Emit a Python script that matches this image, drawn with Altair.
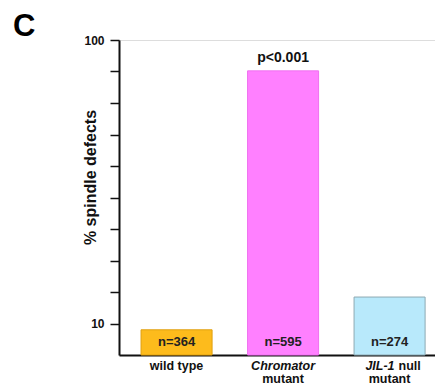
import altair as alt
import pandas as pd

categories = ["wild type", "Chromator mutant", "JIL-1 null mutant"]
values = [8.0, 90.2, 18.4]
n_labels = ["n=364", "n=595", "n=274"]
fills = ["#FDBB1C", "#FF80FF", "#B8E9FB"]
strokes = ["#E0A010", "#F070F0", "#8EA9B3"]
line1_italic = ["", "Chromator", "JIL-1"]
line1_plain = ["wild type", "", "null"]
line2 = ["", "mutant", "mutant"]
sig_label = ["", "p<0.001", ""]
y_ticks = [10, 20, 30, 40, 50, 60, 70, 80, 90, 100]

FONT = "Liberation Sans"

df = pd.DataFrame({
    "cat": categories,
    "val": values,
    "n": n_labels,
    "fill": fills,
    "stroke": strokes,
    "l1i": line1_italic,
    "l1p": line1_plain,
    "l2": line2,
    "sig": sig_label,
})

x = alt.X("cat:N", sort=categories,
          scale=alt.Scale(paddingInner=0.333, paddingOuter=0.15, align=0.69),
          axis=alt.Axis(title=None, labels=False, ticks=False,
                        domainColor="#111", domainWidth=2))
y = alt.Y("val:Q", scale=alt.Scale(domain=[0, 100], nice=False),
          axis=alt.Axis(values=y_ticks, title="% spindle defects",
                        labelExpr="datum.value == 10 || datum.value == 100 ? datum.label : ''",
                        labelOverlap=False,
                        labelFont=FONT, labelFontWeight="bold", labelFontSize=12,
                        labelColor="#111", labelPadding=6,
                        tickSize=9, tickWidth=1.5, tickColor="#111",
                        domainColor="#111", domainWidth=2, grid=False,
                        titleFont=FONT, titleFontWeight="bold", titleFontSize=16,
                        titleColor="#111", titleAngle=-90, titleX=-24, titleY=137,
                        titleAlign="center", titleBaseline="alphabetic"))

base = alt.Chart(df)

bars = base.mark_bar(strokeWidth=1).encode(
    x=x, y=y,
    fill=alt.Fill("fill:N", scale=None),
    stroke=alt.Stroke("stroke:N", scale=None),
)

nlab = base.mark_text(font=FONT, fontWeight="bold", fontSize=13, color="#222",
                      baseline="middle").encode(
    x=x, y=alt.value(302), text="n:N")

sig = base.mark_text(font=FONT, fontWeight="bold", fontSize=14, color="#111",
                     baseline="alphabetic", dy=-9).encode(
    x=x, y=y, text="sig:N")

txt = dict(font=FONT, fontWeight="bold", fontSize=12.5, color="#111",
           baseline="alphabetic")
L1, L2 = 330, 343

lab_plain_center = base.transform_filter(alt.datum.l1i == "").mark_text(
    **txt).encode(x=x, y=alt.value(L1), text="l1p:N")

lab_italic_center = base.transform_filter(
    (alt.datum.l1p == "") & (alt.datum.l1i != "")).mark_text(
    fontStyle="italic", **txt).encode(x=x, y=alt.value(L1), text="l1i:N")

lab_italic_right = base.transform_filter(
    (alt.datum.l1p != "") & (alt.datum.l1i != "")).mark_text(
    fontStyle="italic", align="right", dx=5, **txt).encode(
    x=x, y=alt.value(L1), text="l1i:N")

lab_plain_left = base.transform_filter(
    (alt.datum.l1p != "") & (alt.datum.l1i != "")).mark_text(
    align="left", dx=9, **txt).encode(
    x=x, y=alt.value(L1), text="l1p:N")

lab_line2 = base.mark_text(**txt).encode(x=x, y=alt.value(L2), text="l2:N")

panel = base.mark_text(font=FONT, fontWeight="bold", fontSize=31, color="#000",
                       baseline="alphabetic", align="left").encode(
    x=alt.value(-106), y=alt.value(-4), text=alt.value("C")).transform_filter(
    alt.datum.cat == "wild type")

chart = alt.layer(bars, nlab, sig, lab_plain_center, lab_italic_center,
                  lab_italic_right, lab_plain_left, lab_line2, panel).properties(
    width=316, height=315,
    autosize=alt.AutoSizeParams(type="none"),
    padding={"left": 111, "top": 32, "right": 0, "bottom": 31},
).configure_view(strokeWidth=0).configure(background="white")

chart.save("out.html", embed_options={"renderer": "svg", "actions": False})
